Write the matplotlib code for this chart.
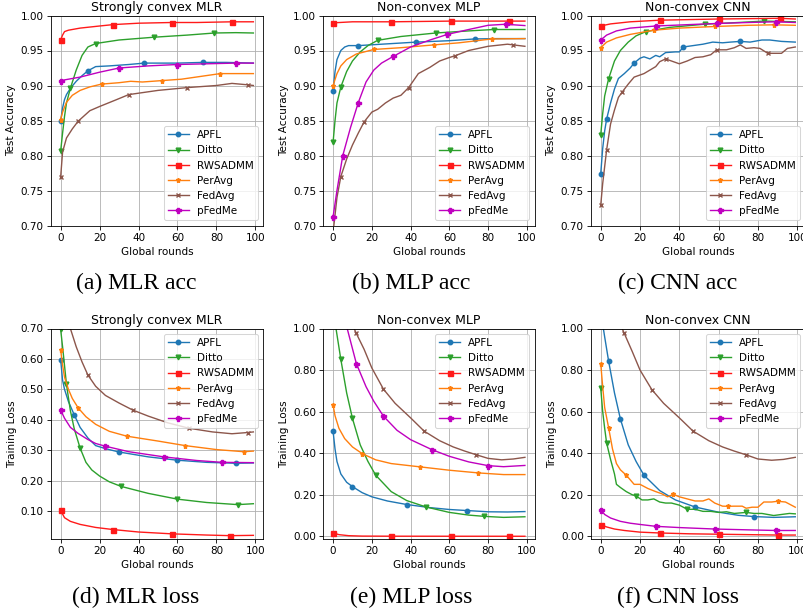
import matplotlib
matplotlib.use("Agg")
import matplotlib.pyplot as plt
from matplotlib.ticker import FormatStrFormatter

# the original was drawn at full size and shrunk by ~0.75, so scale the defaults down
plt.rcParams.update({
    "font.size": 7.5,
    "axes.titlesize": 9,
    "axes.labelsize": 7.5,
    "legend.fontsize": 7.5,
    "axes.linewidth": 0.6,
    "grid.linewidth": 0.6,
    "lines.linewidth": 1.0,
    "xtick.major.size": 2.6,
    "ytick.major.size": 2.6,
    "xtick.major.width": 0.6,
    "ytick.major.width": 0.6,
    "xtick.major.pad": 2.6,
    "ytick.major.pad": 2.6,
    "axes.titlepad": 3.5,
    "axes.labelpad": 3,
    "patch.linewidth": 0.75,
})

# ---- (a) Strongly convex MLR, test accuracy ----
a_apfl_r = [0, 1, 2, 3, 5, 8, 11, 14, 18, 25, 35, 43, 60, 73, 85, 99]
a_apfl_v = [0.849, 0.868, 0.880, 0.887, 0.896, 0.906, 0.914, 0.921, 0.927, 0.928, 0.930, 0.932, 0.932, 0.933, 0.933, 0.932]
a_apfl_mk = [0, 14, 43, 73]
a_ditto_r = [0, 1, 2, 3, 5, 8, 11, 14, 18, 30, 48, 65, 79, 90, 99]
a_ditto_v = [0.806, 0.832, 0.856, 0.875, 0.896, 0.922, 0.943, 0.955, 0.960, 0.965, 0.969, 0.972, 0.975, 0.9755, 0.975]
a_ditto_mk = [0, 5, 18, 48, 79]
a_rws_r = [0, 1, 2, 4, 10, 20, 27, 40, 57, 70, 88, 99]
a_rws_v = [0.965, 0.972, 0.977, 0.979, 0.982, 0.985, 0.987, 0.989, 0.990, 0.990, 0.991, 0.991]
a_rws_mk = [0, 27, 57, 88]
a_peravg_r = [0, 1, 3, 6, 10, 15, 21, 30, 36, 42, 52, 62, 72, 82, 90, 99]
a_peravg_v = [0.851, 0.862, 0.876, 0.886, 0.893, 0.898, 0.902, 0.904, 0.906, 0.905, 0.907, 0.909, 0.913, 0.917, 0.917, 0.917]
a_peravg_mk = [0, 21, 52, 82]
a_fedavg_r = [0, 1, 3, 6, 9, 15, 20, 28, 35, 50, 65, 80, 88, 96, 99]
a_fedavg_v = [0.769, 0.805, 0.825, 0.838, 0.849, 0.864, 0.870, 0.879, 0.887, 0.893, 0.897, 0.900, 0.903, 0.901, 0.900]
a_fedavg_mk = [0, 9, 35, 65, 96]
a_pfedme_r = [0, 10, 20, 30, 45, 60, 75, 90, 99]
a_pfedme_v = [0.907, 0.912, 0.919, 0.925, 0.928, 0.930, 0.931, 0.932, 0.932]
a_pfedme_mk = [0, 30, 60, 90]

# ---- (b) Non-convex MLP, test accuracy ----
b_apfl_r = [0, 1, 2, 4, 6, 8, 13, 25, 43, 60, 73, 85, 99]
b_apfl_v = [0.892, 0.920, 0.937, 0.950, 0.955, 0.957, 0.957, 0.959, 0.962, 0.964, 0.9665, 0.967, 0.967]
b_apfl_mk = [0, 13, 43, 73]
b_ditto_r = [0, 1, 2, 4, 7, 10, 14, 18, 23, 35, 53, 70, 83, 99]
b_ditto_v = [0.819, 0.850, 0.875, 0.898, 0.920, 0.935, 0.948, 0.957, 0.9645, 0.970, 0.975, 0.978, 0.980, 0.980]
b_ditto_mk = [0, 4, 23, 53, 83]
b_rws_r = [0, 10, 30, 61, 91, 99]
b_rws_v = [0.9895, 0.991, 0.991, 0.992, 0.992, 0.992]
b_rws_mk = [0, 30, 61, 91]
b_peravg_r = [0, 2, 4, 7, 12, 21, 35, 52, 65, 82, 99]
b_peravg_v = [0.900, 0.917, 0.928, 0.937, 0.945, 0.9515, 0.954, 0.958, 0.961, 0.9665, 0.967]
b_peravg_mk = [0, 21, 52, 82]
b_fedavg_r = [0, 1, 2, 4, 7, 10, 13, 16, 20, 23, 27, 31, 35, 39, 44, 50, 55, 60, 63, 70, 80, 90, 93, 99]
b_fedavg_v = [0.690, 0.715, 0.740, 0.770, 0.795, 0.815, 0.832, 0.848, 0.862, 0.866, 0.875, 0.882, 0.886, 0.897,
              0.917, 0.926, 0.935, 0.940, 0.9425, 0.950, 0.956, 0.959, 0.958, 0.956]
b_fedavg_mk = [4, 16, 39, 63, 93]
b_pfedme_r = [0, 2, 5, 9, 13, 17, 21, 25, 31, 40, 50, 59, 70, 80, 89, 99]
b_pfedme_v = [0.7125, 0.750, 0.800, 0.840, 0.8755, 0.905, 0.922, 0.932, 0.9415, 0.955, 0.965, 0.973, 0.980, 0.986, 0.9875, 0.9856]
b_pfedme_mk = [0, 5, 13, 31, 59, 89]

# ---- (c) Non-convex CNN, test accuracy ----
c_apfl_r = [0, 1, 2, 3, 5, 7, 9, 12, 15, 17, 20, 22, 25, 28, 30, 33, 38, 40, 42, 47, 52, 57, 62, 66, 71, 76, 82, 86, 92, 99]
c_apfl_v = [0.774, 0.810, 0.835, 0.852, 0.875, 0.895, 0.910, 0.917, 0.925, 0.932, 0.939, 0.941, 0.938, 0.943, 0.941,
            0.947, 0.948, 0.948, 0.955, 0.957, 0.959, 0.962, 0.961, 0.962, 0.963, 0.962, 0.965, 0.965, 0.963, 0.962]
c_apfl_mk = [0, 3, 17, 42, 71]
c_ditto_r = [0, 1, 2, 4, 7, 10, 14, 18, 23, 35, 53, 70, 83, 99]
c_ditto_v = [0.8295, 0.860, 0.885, 0.9095, 0.935, 0.950, 0.962, 0.971, 0.977, 0.983, 0.9876, 0.990, 0.992, 0.991]
c_ditto_mk = [0, 4, 23, 53, 83]
c_rws_r = [0, 5, 15, 30, 60, 91, 99]
c_rws_v = [0.985, 0.988, 0.991, 0.9933, 0.995, 0.996, 0.995]
c_rws_mk = [0, 30, 60, 91]
c_peravg_r = [0, 3, 8, 15, 27, 40, 58, 75, 88, 99]
c_peravg_v = [0.954, 0.962, 0.968, 0.973, 0.979, 0.982, 0.9843, 0.986, 0.9867, 0.986]
c_peravg_mk = [0, 27, 58, 88]
c_fedavg_r = [0, 1, 3, 5, 7, 9, 11, 14, 17, 19, 22, 25, 28, 30, 33, 36, 40, 44, 48, 52, 56, 59, 64, 68, 71, 74,
              78, 81, 85, 87, 92, 95, 99]
c_fedavg_v = [0.729, 0.760, 0.808, 0.845, 0.865, 0.883, 0.891, 0.902, 0.912, 0.914, 0.917, 0.922, 0.927, 0.934,
              0.938, 0.935, 0.931, 0.935, 0.940, 0.941, 0.944, 0.951, 0.951, 0.954, 0.958, 0.953, 0.954, 0.953,
              0.946, 0.946, 0.946, 0.953, 0.955]
c_fedavg_mk = [0, 3, 11, 33, 59, 85]
c_pfedme_r = [0, 3, 8, 15, 28, 45, 59, 75, 89, 99]
c_pfedme_v = [0.965, 0.972, 0.978, 0.982, 0.985, 0.987, 0.9886, 0.990, 0.991, 0.990]
c_pfedme_mk = [0, 28, 59, 89]

# ---- (d) Strongly convex MLR, training loss ----
d_apfl_r = [0, 1, 2, 4, 7, 10, 14, 18, 23, 30, 45, 60, 75, 90, 99]
d_apfl_v = [0.598, 0.530, 0.500, 0.460, 0.416, 0.375, 0.340, 0.315, 0.305, 0.294, 0.278, 0.267, 0.260, 0.257, 0.258]
d_apfl_mk = [0, 7, 30, 60, 90]
d_ditto_r = [0, 1, 3, 5, 7, 10, 13, 16, 20, 25, 31, 45, 60, 75, 91, 99]
d_ditto_v = [0.697, 0.640, 0.516, 0.430, 0.370, 0.307, 0.260, 0.235, 0.215, 0.196, 0.181, 0.158, 0.139, 0.128, 0.121, 0.124]
d_ditto_mk = [0, 3, 10, 31, 60, 91]
d_rws_r = [0, 1, 2, 5, 10, 18, 27, 40, 57, 75, 87, 99]
d_rws_v = [0.104, 0.090, 0.078, 0.066, 0.056, 0.046, 0.039, 0.031, 0.025, 0.021, 0.019, 0.020]
d_rws_mk = [0, 27, 57, 87]
d_peravg_r = [0, 1, 2, 4, 6, 9, 13, 18, 25, 34, 50, 64, 80, 94, 99]
d_peravg_v = [0.629, 0.580, 0.540, 0.500, 0.470, 0.439, 0.410, 0.385, 0.362, 0.346, 0.330, 0.315, 0.302, 0.295, 0.297]
d_peravg_mk = [0, 9, 34, 64, 94]
d_fedavg_r = [0, 2, 5, 8, 11, 14, 18, 23, 30, 37, 45, 55, 66, 78, 88, 96, 99]
d_fedavg_v = [0.900, 0.800, 0.700, 0.640, 0.590, 0.547, 0.510, 0.480, 0.455, 0.432, 0.412, 0.390, 0.372, 0.360, 0.354, 0.358, 0.360]
d_fedavg_mk = [14, 37, 66, 96]
d_pfedme_r = [0, 2, 5, 9, 14, 18, 23, 35, 53, 70, 83, 99]
d_pfedme_v = [0.432, 0.405, 0.375, 0.355, 0.335, 0.322, 0.313, 0.295, 0.278, 0.266, 0.260, 0.259]
d_pfedme_mk = [0, 23, 53, 83]

# ---- (e) Non-convex MLP, training loss ----
e_apfl_r = [0, 1, 2, 4, 7, 10, 15, 20, 28, 38, 50, 60, 69, 80, 90, 99]
e_apfl_v = [0.505, 0.420, 0.360, 0.300, 0.260, 0.239, 0.210, 0.190, 0.170, 0.153, 0.138, 0.129, 0.124, 0.118, 0.117, 0.119]
e_apfl_mk = [0, 10, 38, 69]
e_ditto_r = [0, 1, 2, 4, 7, 10, 14, 18, 22, 30, 38, 48, 60, 70, 78, 88, 99]
e_ditto_v = [1.09, 1.03, 0.97, 0.851, 0.690, 0.567, 0.440, 0.360, 0.294, 0.215, 0.172, 0.141, 0.115, 0.102, 0.096, 0.091, 0.094]
e_ditto_mk = [4, 10, 22, 48, 78]
e_rws_r = [0, 3, 8, 15, 30, 61, 91, 99]
e_rws_v = [0.016, 0.008, 0.003, 0.001, 0.0005, 0.0003, 0.0002, 0.0002]
e_rws_mk = [0, 30, 61, 91]
e_peravg_r = [0, 1, 3, 6, 10, 15, 22, 30, 45, 60, 75, 88, 99]
e_peravg_v = [0.631, 0.580, 0.520, 0.470, 0.430, 0.398, 0.368, 0.350, 0.334, 0.318, 0.305, 0.297, 0.297]
e_peravg_mk = [0, 15, 45, 75]
e_fedavg_r = [0, 5, 8, 12, 16, 20, 26, 32, 40, 47, 55, 62, 68, 74, 80, 87, 93, 99]
e_fedavg_v = [1.30, 1.13, 1.06, 0.976, 0.900, 0.810, 0.708, 0.640, 0.570, 0.506, 0.460, 0.430, 0.410, 0.392, 0.375, 0.368, 0.372, 0.380]
e_fedavg_mk = [12, 26, 47, 74]
e_pfedme_r = [0, 4, 7, 12, 17, 21, 26, 33, 40, 51, 60, 70, 80, 88, 99]
e_pfedme_v = [1.40, 1.15, 1.01, 0.8315, 0.720, 0.650, 0.578, 0.510, 0.465, 0.417, 0.385, 0.358, 0.340, 0.335, 0.341]
e_pfedme_mk = [12, 26, 51, 80]

# ---- (f) Non-convex CNN, training loss ----
f_apfl_r = [0, 1, 2, 4, 7, 10, 14, 18, 22, 30, 38, 48, 60, 70, 78, 88, 99]
f_apfl_v = [1.08, 1.02, 0.96, 0.844, 0.690, 0.565, 0.440, 0.360, 0.294, 0.220, 0.175, 0.141, 0.116, 0.101, 0.095, 0.091, 0.094]
f_apfl_mk = [4, 10, 22, 48, 78]
f_ditto_r = [0, 1, 2, 3, 5, 7, 8, 10, 13, 16, 18, 21, 24, 27, 30, 33, 36, 40, 44, 48, 52, 56, 60, 64, 68, 74,
             78, 82, 88, 92, 96, 99]
f_ditto_v = [0.713, 0.600, 0.520, 0.449, 0.370, 0.300, 0.250, 0.235, 0.215, 0.200, 0.194, 0.175, 0.175, 0.180,
             0.165, 0.160, 0.160, 0.150, 0.130, 0.130, 0.120, 0.120, 0.115, 0.118, 0.110, 0.115, 0.110, 0.110,
             0.100, 0.105, 0.110, 0.108]
f_ditto_mk = [0, 3, 18, 44, 74]
f_rws_r = [0, 3, 7, 12, 20, 30, 45, 60, 75, 90, 99]
f_rws_v = [0.056, 0.045, 0.035, 0.028, 0.020, 0.016, 0.012, 0.010, 0.008, 0.006, 0.006]
f_rws_mk = [0, 30, 60, 90]
f_peravg_r = [0, 1, 2, 4, 6, 8, 10, 13, 17, 20, 24, 28, 31, 34, 37, 40, 44, 48, 52, 55, 58, 62, 65, 68, 72, 74,
              77, 80, 83, 87, 90, 94, 96, 99]
f_peravg_v = [0.831, 0.720, 0.620, 0.523, 0.420, 0.350, 0.320, 0.294, 0.250, 0.250, 0.230, 0.215, 0.205, 0.190,
              0.202, 0.190, 0.180, 0.170, 0.170, 0.180, 0.160, 0.145, 0.1445, 0.145, 0.145, 0.135, 0.140, 0.140,
              0.165, 0.165, 0.1685, 0.165, 0.155, 0.140]
f_peravg_mk = [0, 4, 13, 37, 65, 90]
f_fedavg_r = [0, 5, 8, 10, 12, 16, 20, 26, 32, 40, 47, 55, 62, 68, 74, 80, 87, 93, 99]
f_fedavg_v = [1.50, 1.25, 1.10, 1.02, 0.976, 0.890, 0.800, 0.706, 0.640, 0.570, 0.506, 0.460, 0.430, 0.410,
              0.392, 0.372, 0.366, 0.370, 0.380]
f_fedavg_mk = [12, 26, 47, 74]
f_pfedme_r = [0, 2, 5, 10, 15, 20, 28, 40, 58, 75, 89, 99]
f_pfedme_v = [0.128, 0.105, 0.088, 0.072, 0.063, 0.057, 0.048, 0.042, 0.035, 0.031, 0.028, 0.028]
f_pfedme_mk = [0, 28, 58, 89]

method_names = ["APFL", "Ditto", "RWSADMM", "PerAvg", "FedAvg", "pFedMe"]
method_colors = ["#1f77b4", "#2ca02c", "#ff1a1a", "#ff7f0e", "#8c564b", "#bf00bf"]
method_markers = ["o", "v", "s", "*", "x", "P"]
method_msize = [3.2, 3.4, 3.6, 3.6, 3.4, 3.6]

panel_titles = ["Strongly convex MLR", "Non-convex MLP", "Non-convex CNN"] * 2
panel_captions = ["(a) MLR acc", "(b) MLP acc", "(c) CNN acc", "(d) MLR loss", "(e) MLP loss", "(f) CNN loss"]

panels = [
    [(a_apfl_r, a_apfl_v, a_apfl_mk), (a_ditto_r, a_ditto_v, a_ditto_mk), (a_rws_r, a_rws_v, a_rws_mk),
     (a_peravg_r, a_peravg_v, a_peravg_mk), (a_fedavg_r, a_fedavg_v, a_fedavg_mk), (a_pfedme_r, a_pfedme_v, a_pfedme_mk)],
    [(b_apfl_r, b_apfl_v, b_apfl_mk), (b_ditto_r, b_ditto_v, b_ditto_mk), (b_rws_r, b_rws_v, b_rws_mk),
     (b_peravg_r, b_peravg_v, b_peravg_mk), (b_fedavg_r, b_fedavg_v, b_fedavg_mk), (b_pfedme_r, b_pfedme_v, b_pfedme_mk)],
    [(c_apfl_r, c_apfl_v, c_apfl_mk), (c_ditto_r, c_ditto_v, c_ditto_mk), (c_rws_r, c_rws_v, c_rws_mk),
     (c_peravg_r, c_peravg_v, c_peravg_mk), (c_fedavg_r, c_fedavg_v, c_fedavg_mk), (c_pfedme_r, c_pfedme_v, c_pfedme_mk)],
    [(d_apfl_r, d_apfl_v, d_apfl_mk), (d_ditto_r, d_ditto_v, d_ditto_mk), (d_rws_r, d_rws_v, d_rws_mk),
     (d_peravg_r, d_peravg_v, d_peravg_mk), (d_fedavg_r, d_fedavg_v, d_fedavg_mk), (d_pfedme_r, d_pfedme_v, d_pfedme_mk)],
    [(e_apfl_r, e_apfl_v, e_apfl_mk), (e_ditto_r, e_ditto_v, e_ditto_mk), (e_rws_r, e_rws_v, e_rws_mk),
     (e_peravg_r, e_peravg_v, e_peravg_mk), (e_fedavg_r, e_fedavg_v, e_fedavg_mk), (e_pfedme_r, e_pfedme_v, e_pfedme_mk)],
    [(f_apfl_r, f_apfl_v, f_apfl_mk), (f_ditto_r, f_ditto_v, f_ditto_mk), (f_rws_r, f_rws_v, f_rws_mk),
     (f_peravg_r, f_peravg_v, f_peravg_mk), (f_fedavg_r, f_fedavg_v, f_fedavg_mk), (f_pfedme_r, f_pfedme_v, f_pfedme_mk)],
]

W, H = 804, 615
fig = plt.figure(figsize=(W / 100, H / 100), dpi=100)

col_left = [51, 323.5, 591]
col_width = [212, 211, 214]
row_top = [15.5, 328.5]
row_height = [210, 210.5]
caption_x = [136, 411, 678]
caption_y = [283, 597]

for i in range(6):
    row, col = divmod(i, 3)
    ax = fig.add_axes([col_left[col] / W, 1 - (row_top[row] + row_height[row]) / H,
                       col_width[col] / W, row_height[row] / H])
    for k, (r, v, mk) in enumerate(panels[i]):
        ax.plot(r, v, color=method_colors[k], marker=method_markers[k], ms=method_msize[k],
                markevery=[r.index(m) for m in mk], label=method_names[k])

    ax.set_xlim(-4.95, 103.95)
    if row == 0:
        ax.set_ylim(0.70, 1.00)
        ax.set_yticks([0.70, 0.75, 0.80, 0.85, 0.90, 0.95, 1.00])
        ax.set_ylabel("Test Accuracy")
        ax.legend(loc="lower right")
    else:
        if col == 0:
            ax.set_ylim(0.008, 0.70)
            ax.set_yticks([0.1, 0.2, 0.3, 0.4, 0.5, 0.6, 0.7])
        else:
            ax.set_ylim(-0.013, 1.0)
            ax.set_yticks([0.0, 0.2, 0.4, 0.6, 0.8, 1.0])
        ax.set_ylabel("Training Loss")
        ax.legend(loc="upper right")
    ax.yaxis.set_major_formatter(FormatStrFormatter("%.2f"))
    ax.set_xlabel("Global rounds")
    ax.set_title(panel_titles[i])
    ax.grid(True)

    fig.text(caption_x[col] / W, 1 - caption_y[row] / H, panel_captions[i],
             ha="center", va="center", fontsize=17, family="Liberation Serif")

fig.savefig("out.png", dpi=100)
